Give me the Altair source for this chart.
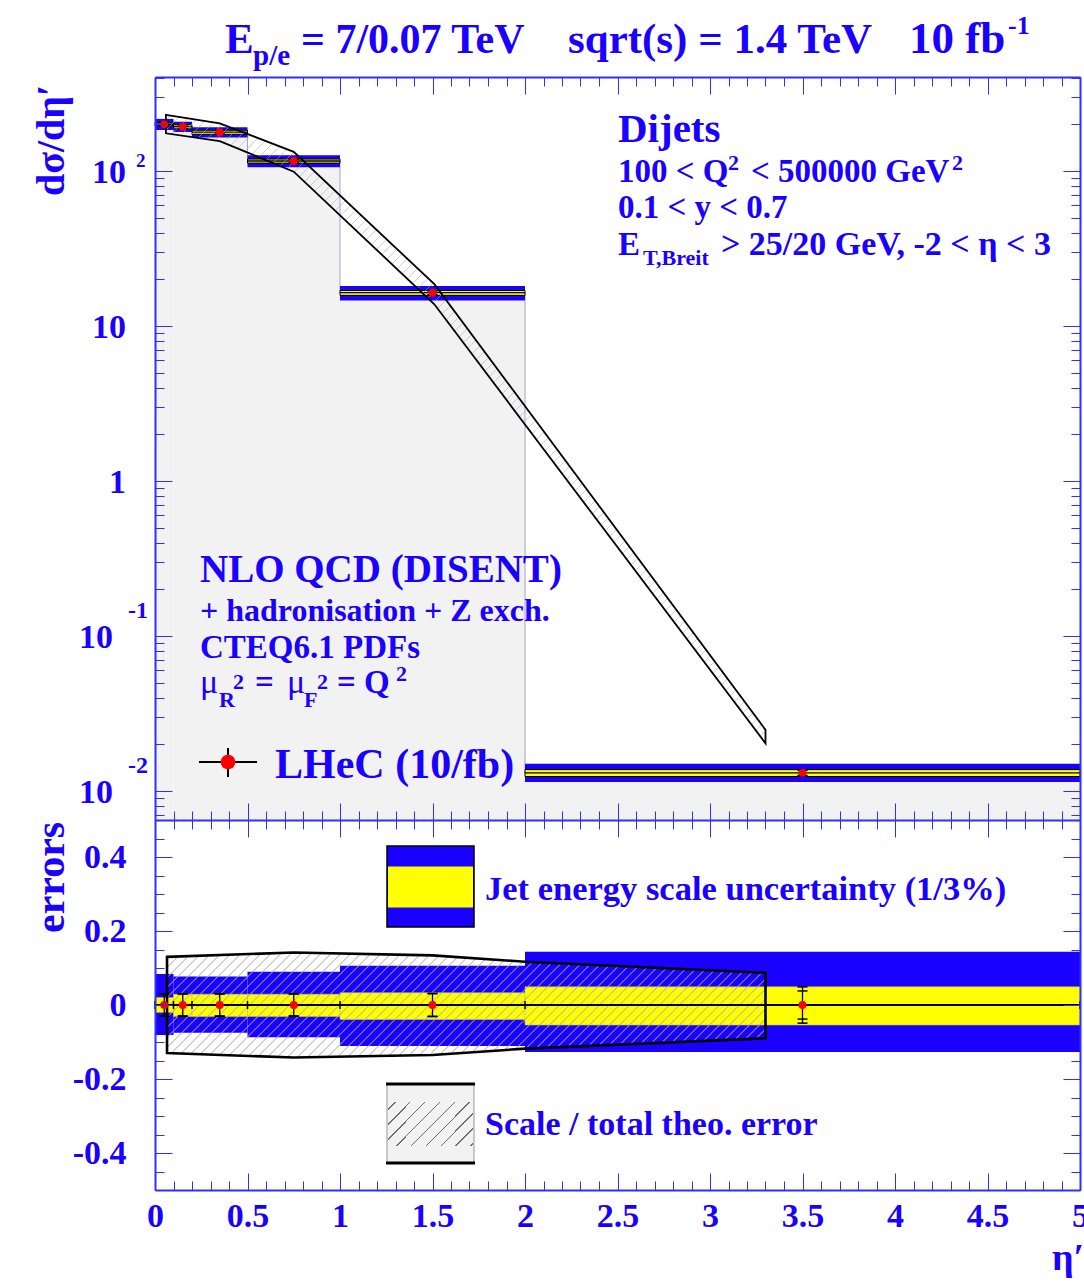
import altair as alt
import numpy as np
import pandas as pd

# ---------------- data ----------------
bin_lo = [0.0, 0.1, 0.2, 0.5, 1.0, 2.0]
bin_hi = [0.1, 0.2, 0.5, 1.0, 2.0, 5.0]
eta_c = [0.05, 0.15, 0.35, 0.75, 1.5, 3.5]
xsec = [200.0, 193.0, 178.0, 116.0, 16.4, 0.0131]
err_tot = [0.030, 0.030, 0.030, 0.030, 0.031, 0.049]
err_stat = [0.030, 0.030, 0.030, 0.030, 0.031, 0.038]
jes3_up = [0.084, 0.077, 0.077, 0.090, 0.106, 0.144]
jes3_dn = [0.081, 0.075, 0.075, 0.087, 0.111, 0.127]
jes1_up = [0.020, 0.029, 0.029, 0.029, 0.033, 0.049]
jes1_dn = [0.020, 0.031, 0.031, 0.031, 0.039, 0.054]

theo_eta = [0.059, 0.35, 0.75, 1.51, 3.3]
theo_hi = [230.0, 203.0, 133.0, 18.6, 0.0248]
theo_lo = [175.0, 156.0, 99.0, 13.8, 0.0203]

env_eta = [0.065, 0.75, 1.5, 2.0, 3.3]
env_hi = [0.130, 0.142, 0.134, 0.117, 0.087]
env_lo = [-0.130, -0.142, -0.135, -0.118, -0.090]

x_major_ticks = [0.0, 0.5, 1.0, 1.5, 2.0, 2.5, 3.0, 3.5, 4.0, 4.5, 5.0]
x_minor_ticks = [round(0.1 * i, 1) for i in range(51)]
ytop_major_ticks = [0.01, 0.1, 1.0, 10.0, 100.0]
ybot_major_ticks = [-0.4, -0.2, 0.0, 0.2, 0.4]
ybot_minor_ticks = [round(-0.5 + 0.05 * i, 2) for i in range(21)]
ytop_label_vals = [100.0, 10.0, 1.0, 0.1, 0.01]
ytop_label_base = ["10", "10", "1", "10", "10"]

# ---------------- layout / style ----------------
OX, OY = 155, 77
PW = 925
TOP_H = 743
TOT_H = 1113
BOT_H = TOT_H - TOP_H
Y_LO, Y_HI = 0.0065, 404.0
ytop_minor_ticks = sorted({round(m * 10.0 ** e, 6) for e in range(-3, 3) for m in range(1, 10)
                           if Y_LO <= m * 10.0 ** e <= Y_HI})

FONT = "Liberation Serif"
BLUE = "#1a00ff"
AXC = "#2f2fff"
GREY = "#f2f2f2"
YELLOW = "#ffff00"
RED = "#ff0000"
HATCH = "rgba(170,170,170,0.55)"


def xsc():
    return alt.Scale(domain=[0, 5], nice=False, zero=False)


def ysc_top():
    return alt.Scale(type="log", domain=[Y_LO, Y_HI], range=[TOP_H, 0], nice=False)


def ysc_bot():
    return alt.Scale(domain=[-0.5, 0.5], range=[TOT_H, TOP_H], nice=False, zero=False)


def hatch(W, H, spacing, color, lw=1.0, bg="rgba(255,255,255,0)"):
    S = W + H
    k = S / (W * W + H * H)
    half = lw * 0.7071 / S
    stops = [{"offset": 0, "color": bg}]
    c = spacing / 2.0
    while c < S:
        t = c / S
        a, b = round(max(t - half, 0.0), 5), round(min(t + half, 1.0), 5)
        stops += [{"offset": a, "color": bg}, {"offset": a, "color": color},
                  {"offset": b, "color": color}, {"offset": b, "color": bg}]
        c += spacing
    stops.append({"offset": 1, "color": bg})
    return {"gradient": "linear", "x1": 0, "y1": 0, "x2": round(W * k, 5), "y2": round(H * k, 5),
            "stops": stops}


PXX = PW / 5.0


def ytop_px(v):
    return (np.log10(Y_HI) - np.log10(v)) / (np.log10(Y_HI) - np.log10(Y_LO)) * TOP_H


W_t = (max(theo_eta) - min(theo_eta)) * PXX
H_t = ytop_px(min(theo_lo)) - ytop_px(max(theo_hi))
W_b = (max(env_eta) - min(env_eta)) * PXX
H_b = (max(env_hi) - min(env_lo)) * BOT_H

# ---------------- tables ----------------
b = pd.DataFrame(dict(lo=bin_lo, hi=bin_hi, c=eta_c, v=xsec, et=err_tot, es=err_stat,
                      bu=jes3_up, bd=jes3_dn, yu=jes1_up, yd=jes1_dn))
b["base"] = Y_LO
b["tb_hi"] = b.v * (1 + b.bu)
b["tb_lo"] = b.v * (1 - b.bd)
b["ty_hi"] = b.v * (1 + b.yu)
b["ty_lo"] = b.v * (1 - b.yd)
b["te_hi"] = b.v * (1 + b.et)
b["te_lo"] = b.v * (1 - b.et)
b["ts_hi"] = b.v * (1 + b.es)
b["ts_lo"] = b.v * (1 - b.es)
b["nbd"] = -b.bd
b["nyd"] = -b.yd
b["net"] = -b.et
b["nes"] = -b.es
b["zero"] = 0.0

step = pd.DataFrame({"x": bin_lo + [bin_hi[-1]], "v": xsec + [xsec[-1]]})
theo = pd.DataFrame({"x": theo_eta, "hi": theo_hi, "lo": theo_lo})
env = pd.DataFrame({"x": env_eta, "hi": env_hi, "lo": env_lo})
edges = pd.DataFrame({"x": [0.0] + bin_hi, "a": -0.011, "b": 0.011})
zl = pd.DataFrame({"x": [0.0], "x2": [5.0], "y": [0.0]})


def X(f):
    return alt.X(f, type="quantitative", scale=xsc(), axis=None)


def YT(f):
    return alt.Y(f, type="quantitative", scale=ysc_top(), axis=None)


def YB(f):
    return alt.Y(f, type="quantitative", scale=ysc_bot(), axis=None)


layers = []
# ---- top panel ----
layers.append(alt.Chart(b).mark_rect(fill=GREY, strokeWidth=0).encode(
    x=X("lo"), x2="hi", y=YT("v"), y2="base"))
layers.append(alt.Chart(step).mark_line(interpolate="step-after", color="#a4a4cc", strokeWidth=1).encode(
    x=X("x"), y=YT("v")))
layers.append(alt.Chart(b).mark_rect(fill=BLUE, strokeWidth=0).encode(
    x=X("lo"), x2="hi", y=YT("tb_lo"), y2="tb_hi"))
layers.append(alt.Chart(b).mark_rect(fill=YELLOW, stroke="black", strokeWidth=1).encode(
    x=X("lo"), x2="hi", y=YT("ty_lo"), y2="ty_hi"))
layers.append(alt.Chart(b).mark_rule(color="black", strokeWidth=1.3).encode(
    x=X("lo"), x2="hi", y=YT("v")))
layers.append(alt.Chart(theo).mark_area(
    fill=hatch(W_t, H_t, 10, HATCH), stroke="black", strokeWidth=1.8).encode(
    x=X("x"), y=YT("hi"), y2="lo"))
layers.append(alt.Chart(b).mark_rule(color="black", strokeWidth=1.3).encode(
    x=X("c"), y=YT("te_lo"), y2="te_hi"))
for lo_f, hi_f in (("te_lo", "te_hi"), ("ts_lo", "ts_hi")):
    for f in (lo_f, hi_f):
        layers.append(alt.Chart(b).mark_tick(orient="horizontal", size=10, thickness=1.5, color="black",
                                             opacity=1).encode(x=X("c"), y=YT(f)))
layers.append(alt.Chart(b).mark_circle(color=RED, size=62, opacity=1).encode(x=X("c"), y=YT("v")))

# ---- bottom panel ----
layers.append(alt.Chart(b).mark_rect(fill=BLUE, strokeWidth=0).encode(
    x=X("lo"), x2="hi", y=YB("nbd"), y2="bu"))
layers.append(alt.Chart(b).mark_rect(fill=YELLOW, stroke="#c8c850", strokeWidth=0.6).encode(
    x=X("lo"), x2="hi", y=YB("nyd"), y2="yu"))
layers.append(alt.Chart(env).mark_area(
    fill=hatch(W_b, H_b, 10, HATCH), stroke="black", strokeWidth=2.6).encode(
    x=X("x"), y=YB("hi"), y2="lo"))
layers.append(alt.Chart(zl).mark_rule(color="black", strokeWidth=2).encode(
    x=X("x"), x2="x2", y=YB("y")))
layers.append(alt.Chart(edges).mark_rule(color="black", strokeWidth=1.5).encode(
    x=X("x"), y=YB("a"), y2="b"))
layers.append(alt.Chart(b).mark_rule(color="black", strokeWidth=1.3).encode(
    x=X("c"), y=YB("net"), y2="et"))
for f in ("net", "et", "nes", "es"):
    layers.append(alt.Chart(b).mark_tick(orient="horizontal", size=10, thickness=1.5, color="black",
                                         opacity=1).encode(x=X("c"), y=YB(f)))
layers.append(alt.Chart(b).mark_circle(color=RED, size=62, opacity=1).encode(x=X("c"), y=YB("zero")))

# ---- legend boxes (pixel positions) ----
one = pd.DataFrame({"d": [0]})


def px(x):
    return alt.value(x - OX)


def py(y):
    return alt.value(y - OY)


layers.append(alt.Chart(one).mark_rect(fill=BLUE, stroke="black", strokeWidth=1.5).encode(
    x=px(387), x2=px(474), y=py(846), y2=py(927)))
layers.append(alt.Chart(one).mark_rect(fill=YELLOW, strokeWidth=0).encode(
    x=px(388), x2=px(473), y=py(866.5), y2=py(907.5)))
layers.append(alt.Chart(one).mark_rect(fill=GREY, stroke="#999999", strokeWidth=1).encode(
    x=px(387), x2=px(474), y=py(1084), y2=py(1163)))
layers.append(alt.Chart(one).mark_rect(fill=hatch(86, 44, 15, "#6e6e6e"), strokeWidth=0).encode(
    x=px(388), x2=px(473), y=py(1102), y2=py(1146)))
for yy in (1084, 1163):
    layers.append(alt.Chart(one).mark_rule(color="black", strokeWidth=3).encode(
        x=px(386), x2=px(475), y=py(yy)))
# LHeC legend marker
layers.append(alt.Chart(one).mark_rule(color="black", strokeWidth=2).encode(
    x=px(199), x2=px(257), y=py(762)))
layers.append(alt.Chart(one).mark_rule(color="black", strokeWidth=2).encode(
    x=px(228), y=py(748), y2=py(777)))
layers.append(alt.Chart(one).mark_circle(color=RED, size=215, opacity=1).encode(
    x=px(228), y=py(762)))

# ---- texts ----
texts_bold = [
    (225, 53, "E", 43), (253, 65, "p/e", 29), (301, 53, "= 7/0.07 TeV", 42),
    (568, 53, "sqrt(s) = 1.4 TeV", 43), (909, 53, "10 fb", 45), (1008, 34, "-1", 26),
    (618, 142, "Dijets", 41),
    (618, 182, "100 < Q", 33), (728, 170, "2", 22), (751, 182, "< 500000 GeV", 33), (952, 170, "2", 22),
    (618, 218, "0.1 < y < 0.7", 33),
    (618, 255, "E", 33), (643, 265, "T,Breit", 22), (721, 255, "> 25/20 GeV, -2 < η < 3", 34),
    (200, 582, "NLO QCD (DISENT)", 39),
    (200, 621, "+ hadronisation + Z exch.", 32),
    (200, 658, "CTEQ6.1 PDFs", 33),
    (219, 707, "R", 22), (233, 689, "2", 22), (255, 693, "=", 33),
    (304, 707, "F", 22), (317, 689, "2", 22), (337, 693, "= Q", 33), (396, 681, "2", 22),
    (275, 778, "LHeC (10/fb)", 42),
    (485, 900, "Jet energy scale uncertainty (1/3%)", 34.5),
    (485, 1135, "Scale / total theo. error", 34),
    (1052, 1270, "η′", 38),
]
texts_normal = [(200, 693, "μ", 34), (287, 693, "μ", 34)]
texts_rot = [(64, 196, "dσ/dη′", 40), (64, 933, "errors", 42)]


def tdf(rows):
    return pd.DataFrame({"px": [r[0] - OX for r in rows], "py": [r[1] - OY for r in rows],
                         "t": [r[2] for r in rows], "s": [r[3] for r in rows]})


def text_layer(rows, **kw):
    return alt.Chart(tdf(rows)).mark_text(font=FONT, color=BLUE, baseline="alphabetic", **kw).encode(
        x=alt.X("px:Q", scale=None, axis=None), y=alt.Y("py:Q", scale=None, axis=None),
        text="t:N", size=alt.Size("s:Q", scale=None))


layers.append(text_layer(texts_bold, align="left", fontWeight="bold"))
layers.append(text_layer(texts_normal, align="left", fontWeight="normal"))
layers.append(text_layer(texts_rot, align="left", fontWeight="bold", angle=270))

# log axis labels of the upper panel, placed through the log scale
lab = pd.DataFrame({"v": ytop_label_vals, "t": ytop_label_base,
                    "px": [-29, -29, -29, -42, -42]})
layers.append(alt.Chart(lab).mark_text(font=FONT, color=BLUE, fontWeight="bold", fontSize=34,
                                       align="right", baseline="alphabetic", dy=12).encode(
    x=alt.X("px:Q", scale=None, axis=None), y=YT("v"), text="t:N"))
exp_pos = pd.DataFrame({"v": [100.0], "t": ["2"], "px": [-19]})
exp_neg = pd.DataFrame({"v": [0.1, 0.01], "t": ["-1", "-2"], "px": [-27, -27]})
layers.append(alt.Chart(exp_pos).mark_text(font=FONT, color=BLUE, fontWeight="bold", fontSize=19,
                                           align="left", baseline="alphabetic", dy=-4).encode(
    x=alt.X("px:Q", scale=None, axis=None), y=YT("v"), text="t:N"))
layers.append(alt.Chart(exp_neg).mark_text(font=FONT, color=BLUE, fontWeight="bold", fontSize=24,
                                           align="left", baseline="alphabetic", dy=-18).encode(
    x=alt.X("px:Q", scale=None, axis=None), y=YT("v"), text="t:N"))

# ---- axes (ticks inward, frame) ----
dtop = pd.DataFrame({"x": [1.0], "y": [1.0]})
dbot = pd.DataFrame({"x": [1.0], "y": [0.0]})


def tick_axis(orient, offset, values, size, domain=False, zindex=1):
    return alt.Axis(orient=orient, offset=offset, values=values, tickSize=size, ticks=True,
                    labels=False, domain=domain, grid=False, title=None, tickColor=AXC,
                    tickWidth=1, domainColor=AXC, domainWidth=2, zindex=zindex)


def ax_layer(panel, xaxis=None, yaxis=None):
    if panel == "top":
        return alt.Chart(dtop).mark_point(opacity=0, size=1).encode(
            x=alt.X("x:Q", scale=xsc(), axis=xaxis), y=alt.Y("y:Q", scale=ysc_top(), axis=yaxis))
    return alt.Chart(dbot).mark_point(opacity=0, size=1).encode(
        x=alt.X("x:Q", scale=xsc(), axis=xaxis), y=alt.Y("y:Q", scale=ysc_bot(), axis=yaxis))


xaxes = [
    tick_axis("bottom", -TOT_H, x_major_ticks, 17, domain=True),
    tick_axis("bottom", -TOT_H, x_minor_ticks, 9),
    tick_axis("top", -TOP_H, x_major_ticks, 17, domain=True),
    tick_axis("top", -TOP_H, x_minor_ticks, 9),
    tick_axis("bottom", -BOT_H, x_major_ticks, 17),
    tick_axis("bottom", -BOT_H, x_minor_ticks, 9),
    tick_axis("top", -TOT_H, x_major_ticks, 17, domain=True),
    tick_axis("top", -TOT_H, x_minor_ticks, 9),
    alt.Axis(orient="bottom", values=x_major_ticks, ticks=False, tickSize=0, domain=False, grid=False,
             title=None, labelFont=FONT, labelFontSize=34, labelFontWeight="bold", labelColor=BLUE,
             labelPadding=9, labelFlush=False, labelOverlap=False,
             labelExpr="datum.value % 1 == 0 ? format(datum.value, 'd') : format(datum.value, '.1f')"),
]
for a in xaxes:
    layers.append(ax_layer("top", xaxis=a))

ytop_axes = [
    tick_axis("right", -PW, ytop_major_ticks, 17, domain=True),
    tick_axis("right", -PW, ytop_minor_ticks, 9),
    tick_axis("left", -PW, ytop_major_ticks, 17, domain=True),
    tick_axis("left", -PW, ytop_minor_ticks, 9),
]
for a in ytop_axes:
    layers.append(ax_layer("top", yaxis=a))

ybot_axes = [
    tick_axis("right", -PW, ybot_major_ticks, 17, domain=True, zindex=1),
    tick_axis("right", -PW, ybot_minor_ticks, 9, zindex=0),
    tick_axis("left", -PW, ybot_major_ticks, 17, domain=True, zindex=1),
    tick_axis("left", -PW, ybot_minor_ticks, 9, zindex=0),
    alt.Axis(orient="left", values=ybot_major_ticks, ticks=False, tickSize=0, domain=False, grid=False,
             title=None, labelFont=FONT, labelFontSize=34, labelFontWeight="bold", labelColor=BLUE,
             labelPadding=29, labelFlush=False, labelOverlap=False, labelBaseline="middle",
             labelExpr="datum.value == 0 ? '0' : (datum.value < 0 ? '-' : '') + format(abs(datum.value), '.1f')"),
]
for a in ybot_axes:
    layers.append(ax_layer("bot", yaxis=a))

chart = alt.layer(*layers).resolve_scale(y="independent").resolve_axis(
    x="independent", y="independent").properties(
    width=PW, height=TOT_H,
    autosize=alt.AutoSizeParams(type="none"),
    padding={"left": OX, "top": OY, "right": 1084 - OX - PW, "bottom": 1284 - OY - TOT_H},
    background="white",
).configure_view(stroke=None)

chart.save("out.html", embed_options={"renderer": "svg", "actions": False})
